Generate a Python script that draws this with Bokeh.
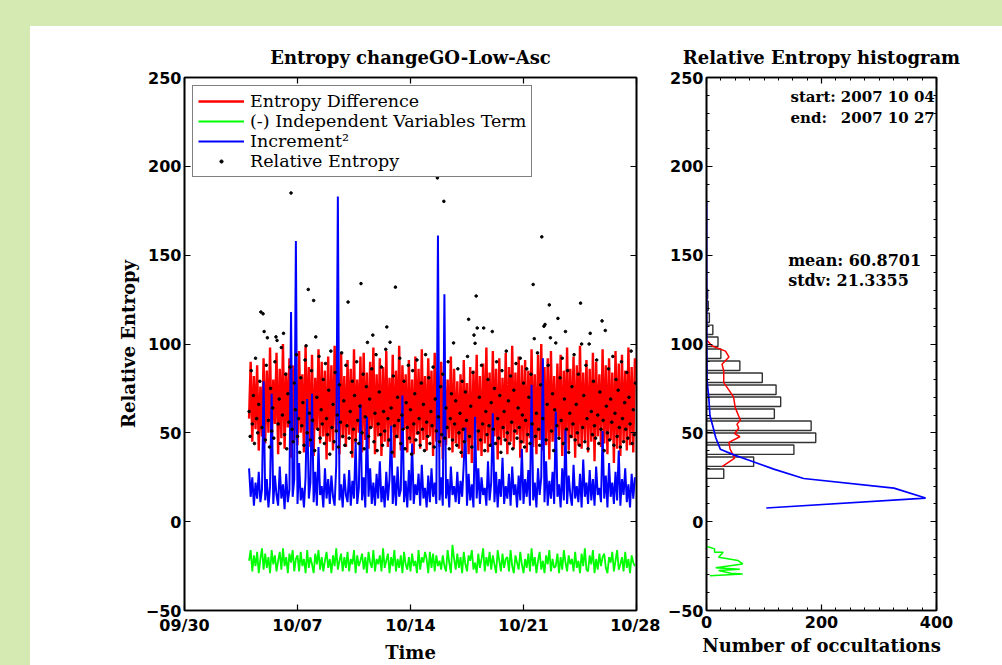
import numpy as np
from datetime import datetime
from bokeh.plotting import figure
from bokeh.layouts import row
from bokeh.models import (LinearAxis, FixedTicker, DatetimeTickFormatter, Range1d, Label,
                          CustomJSTickFormatter)
from bokeh.embed import file_html
from bokeh.resources import INLINE

# ---------------- data ----------------
t_start = np.datetime64('2007-10-04T00:00')
times = t_start + np.arange(240) * np.timedelta64(144, 'm')      # line series
times_dots = t_start + np.arange(360) * np.timedelta64(96, 'm')  # relative entropy dots

entropy_diff = [
    58, 90, 45, 82, 52, 88, 40, 76, 48, 92,
    44, 85, 50, 98, 42, 80, 55, 95, 38, 86,
    47, 100, 41, 84, 53, 92, 36, 88, 46, 79,
    43, 96, 50, 83, 39, 99, 46, 87, 42, 94,
    37, 81, 52, 97, 44, 90, 48, 85, 35, 93,
    45, 88, 40, 99, 51, 84, 38, 95, 47, 82,
    42, 91, 49, 86, 36, 97, 44, 80, 50, 93,
    39, 95, 46, 84, 41, 90, 53, 98, 38, 83,
    48, 92, 37, 87, 45, 96, 42, 81, 50, 94,
    36, 85, 47, 99, 40, 88, 52, 83, 39, 91,
    44, 80, 38, 93, 49, 86, 41, 97, 46, 82,
    40, 92, 48, 85, 37, 95, 45, 84, 42, 90,
    35, 88, 43, 80, 47, 93, 39, 86, 44, 79,
    41, 83, 36, 91, 45, 78, 38, 87, 33, 85,
    46, 94, 40, 82, 37, 89, 44, 98, 39, 84,
    42, 96, 48, 86, 35, 92, 43, 81, 47, 95,
    38, 87, 45, 99, 41, 84, 49, 93, 36, 88,
    44, 91, 39, 85, 47, 97, 42, 83, 38, 94,
    46, 100, 40, 87, 43, 92, 35, 96, 45, 82,
    41, 89, 48, 94, 37, 85, 44, 98, 40, 86,
    47, 93, 36, 88, 43, 99, 41, 84, 46, 91,
    39, 86, 45, 95, 34, 90, 48, 83, 42, 97,
    44, 88, 38, 92, 46, 84, 33, 96, 41, 89,
    37, 94, 45, 85, 40, 98, 43, 87, 39, 92,
]

indep_term = [
    -22, -16, -28, -19, -25, -17, -29, -21, -15, -27,
    -18, -26, -20, -29, -16, -24, -19, -28, -22, -17,
    -27, -15, -25, -20, -29, -18, -23, -16, -28, -21,
    -19, -28, -17, -25, -21, -29, -16, -26, -20, -24,
    -29, -18, -24, -16, -27, -20, -28, -22, -17, -26,
    -21, -29, -19, -25, -15, -27, -22, -18, -28, -20,
    -26, -17, -28, -21, -24, -16, -29, -19, -25, -22,
    -18, -27, -20, -29, -17, -23, -26, -16, -28, -21,
    -24, -19, -28, -15, -26, -22, -18, -29, -20, -25,
    -16, -28, -21, -26, -19, -29, -17, -24, -27, -20,
    -28, -18, -25, -22, -29, -16, -27, -20, -23, -17,
    -21, -29, -17, -26, -18, -28, -19, -25, -22, -27,
    -19, -25, -28, -16, -23, -29, -13, -21, -27, -18,
    -26, -20, -29, -17, -24, -28, -19, -22, -16, -27,
    -23, -29, -18, -26, -21, -15, -28, -20, -25, -17,
    -27, -19, -24, -29, -16, -22, -28, -18, -26, -21,
    -20, -28, -16, -25, -29, -19, -23, -27, -17, -24,
    -29, -21, -26, -18, -28, -15, -25, -20, -29, -22,
    -17, -27, -22, -29, -19, -24, -16, -28, -21, -26,
    -25, -18, -29, -20, -27, -16, -23, -28, -19, -24,
    -21, -28, -17, -26, -22, -29, -18, -25, -15, -27,
    -28, -19, -24, -16, -29, -21, -27, -18, -25, -20,
    -18, -26, -29, -20, -23, -17, -28, -22, -16, -27,
    -24, -20, -28, -17, -26, -21, -29, -19, -23, -25,
]

increment_sq = [
    30, 14, 25, 9, 22, 13, 28, 11, 18, 79,
    12, 24, 8, 20, 72, 10, 26, 15, 9, 31,
    13, 21, 7, 27, 11, 18, 118, 14, 24, 158,
    10, 33, 12, 19, 8, 25, 69, 13, 22, 72,
    11, 28, 9, 42, 15, 20, 8, 30, 13, 24,
    10, 26, 14, 9, 32, 183, 12, 21, 8, 27,
    15, 11, 29, 9, 23, 13, 45, 10, 19, 66,
    12, 25, 8, 59, 14, 30, 10, 22, 9, 27,
    13, 34, 11, 20, 8, 28, 12, 24, 54, 10,
    26, 9, 31, 14, 18, 71, 11, 23, 8, 29,
    12, 44, 10, 21, 15, 27, 9, 32, 13, 19,
    8, 26, 11, 30, 14, 22, 10, 161, 12, 25,
    9, 128, 13, 24, 8, 31, 15, 20, 11, 28,
    10, 23, 14, 33, 53, 9, 27, 12, 21, 8,
    59, 13, 30, 10, 25, 15, 19, 9, 34, 12,
    22, 61, 11, 28, 8, 24, 14, 36, 10, 20,
    13, 27, 9, 31, 15, 21, 8, 26, 12, 41,
    10, 24, 14, 29, 9, 77, 12, 22, 8, 30,
    15, 25, 92, 11, 34, 9, 23, 13, 28, 10,
    62, 14, 21, 8, 30, 12, 52, 10, 26, 15,
    9, 32, 13, 20, 11, 27, 8, 35, 14, 22,
    10, 29, 12, 24, 9, 31, 15, 19, 11, 51,
    13, 26, 8, 33, 14, 22, 10, 28, 12, 40,
    9, 24, 15, 30, 11, 21, 8, 27, 13, 25,
]

relative_entropy = [
    62, 48, 85, 55, 71, 44, 92, 58, 50, 66,
    79, 118, 53, 117, 107, 46, 88, 103.5, 57, 42,
    75, 51, 64, 47, 90, 104, 102, 55, 69, 44,
    98, 60, 106, 49, 83, 41, 72, 56, 87, 185,
    52, 45, 78, 63, 94, 48, 58, 39, 81, 54,
    67, 43, 91, 99, 50, 130.7, 61, 46, 85, 57,
    124.5, 40, 104, 70, 52, 93, 47, 63, 55, 80,
    44, 89, 58, 49, 74, 38, 96, 53, 66, 45,
    84, 51, 60, 42, 77, 56, 95, 48, 68, 43,
    88, 54, 123.6, 47, 62, 39, 79, 52, 71, 46,
    90, 57, 44, 65, 134, 50, 83, 41, 59, 76,
    100.9, 48, 69, 53, 86, 105, 45, 61, 94, 40,
    55, 73, 49, 87, 43, 62, 51, 97, 109.6, 58,
    46, 101, 64, 39, 82, 54, 132, 48, 70, 57,
    92, 44, 60, 52, 79, 41, 67, 53, 88, 47,
    63, 38, 85, 55, 72, 46, 91, 50, 58, 43,
    78, 52, 66, 40, 94, 56, 48, 81, 44, 62,
    54, 87, 42, 69, 51, 193.5, 59, 45, 76, 49,
    83, 180.3, 47, 64, 53, 90, 41, 58, 72, 46,
    100.6, 55, 68, 43, 86, 50, 61, 39, 79, 52,
    45, 73, 57, 93, 113.9, 48, 65, 42, 84, 105,
    100.4, 127, 109, 51, 70, 46, 88, 55, 109, 40,
    62, 49, 80, 54, 43, 67, 107, 52, 75, 44,
    90, 58, 47, 71, 39, 85, 53, 62, 46, 96,
    50, 68, 44, 82, 56, 41, 74, 51, 89, 47,
    64, 53, 92, 45, 60, 78, 42, 57, 86, 49,
    70, 44, 83, 55, 133.5, 103, 48, 61, 95, 52,
    43, 77, 160.3, 58, 110, 111, 46, 66, 88, 122,
    103.5, 51, 72, 40, 63, 100.6, 54, 114.4, 47, 81,
    57, 92, 44, 69, 107, 52, 85, 39, 61, 48,
    76, 55, 94, 46, 66, 50, 83, 43, 123, 100,
    53, 71, 45, 88, 58, 41, 100, 106, 62, 49,
    79, 54, 47, 91, 60, 44, 73, 52, 113, 57,
    40, 107.6, 65, 50, 86, 46, 69, 56, 93, 43,
    61, 80, 48, 74, 53, 42, 90, 58, 45, 67,
    52, 84, 47, 70, 55, 96, 44, 63, 49, 78,
]

# histogram of relative entropy (bin centres, counts)
hist_bins = [27, 33.75, 40.5, 47.25, 54, 60.75, 67.5, 74.25, 81, 87.75,
             94.5, 101.25, 108, 114.75, 121.5, 128.25]
hist_counts = [30, 82, 152, 190, 182, 118, 129, 121, 97, 58,
               25, 20, 11, 5, 3, 2]

# distribution curves of the three terms (value, count)
red_hist_v = [31, 35.8, 40.8, 44.6, 47.8, 49.6, 52.6, 54.9, 57.1, 64.2,
              70.2, 74, 78.3, 84.8, 88.6, 92.7, 96, 98.9, 102]
red_hist_c = [27, 49, 41, 39, 58, 49, 56, 53, 59, 50,
              47, 39, 30, 30, 27, 39, 33, 10, 1]
blue_hist_v = [7.7, 13.3, 18.9, 24.3, 29.6, 34.3, 37.6, 40.8, 47.4, 53,
               59.6, 69.8, 79, 100, 130, 180]
blue_hist_c = [104, 381, 326, 169, 117, 76.5, 47.5, 24, 16, 11.6,
               6, 4, 1, 0.5, 0.3, 0.2]
green_hist_v = [-14, -15.3, -17.2, -17.2, -20, -21.9, -23.8, -26, -26.8,
                -27.5, -29, -29.4, -30.5]
green_hist_c = [1, 14, 14, 29, 21, 55, 63, 16, 58, 21, 42, 63, 6]

y_ticks = [-50, 0, 50, 100, 150, 200, 250]
date_ticks = [datetime(2007, 9, 30), datetime(2007, 10, 7), datetime(2007, 10, 14),
              datetime(2007, 10, 21), datetime(2007, 10, 28)]
count_ticks = [0, 200, 400]

stats_start = "2007 10 04"
stats_end = "2007 10 27"
stats_mean = "60.8701"
stats_stdv = "21.3355"

# ---------------- styling helpers ----------------
SERIF = "DejaVu Serif"
SANS = "DejaVu Sans"
epoch = datetime(1970, 1, 1)
def ms(d):
    return (d - epoch).total_seconds() * 1000.0

minus_fmt = "return tick < 0 ? '\u2212' + Math.abs(tick) : '' + tick;"
blank_fmt = "return '';"

def style_axis(ax, labels=True, size="16px"):
    ax.axis_line_width = 1.6
    ax.axis_line_color = "black"
    ax.major_tick_in = 6
    ax.major_tick_out = 0
    ax.minor_tick_in = 3
    ax.minor_tick_out = 0
    ax.major_tick_line_width = 1.2
    ax.minor_tick_line_width = 1.0
    ax.major_tick_line_color = "black"
    ax.minor_tick_line_color = "black"
    if labels:
        ax.major_label_text_font = SANS
        ax.major_label_text_font_style = "bold"
        ax.major_label_text_font_size = size
        ax.major_label_text_color = "black"
    else:
        ax.formatter = CustomJSTickFormatter(code=blank_fmt)
        ax.major_label_standoff = 0

def style_fig(p):
    p.grid.visible = False
    p.outline_line_color = "black"
    p.outline_line_width = 1.6
    p.background_fill_color = "white"
    p.border_fill_color = "white"
    p.title.text_font = SERIF
    p.title.text_font_style = "bold"
    p.title.text_font_size = "18px"
    p.title.text_color = "black"
    p.title.align = "center"
    p.title.standoff = 19

# ---------------- left: time series ----------------
p1 = figure(width=630, height=639, output_backend="svg", toolbar_location=None,
            x_axis_type="datetime",
            x_range=Range1d(date_ticks[0], date_ticks[-1]),
            y_range=Range1d(-50, 250),
            min_border_left=154, min_border_right=24, min_border_top=51, min_border_bottom=55,
            title="Entropy changeGO-Low-Asc")
style_fig(p1)

p1.line(times, entropy_diff, color="red", line_width=2.4, legend_label="Entropy Difference")
p1.line(times, indep_term, color="#00ff00", line_width=1.8, legend_label="(-) Independent Variables Term")
p1.line(times, increment_sq, color="blue", line_width=2.0, legend_label="Increment\u00b2")
p1.scatter(times_dots, relative_entropy, size=2.6, color="black", legend_label="Relative Entropy")

date_ms = [ms(d) for d in date_ticks]
p1.xaxis.ticker = FixedTicker(ticks=date_ms, minor_ticks=[])
p1.xaxis.formatter = DatetimeTickFormatter(days="%m/%d", months="%m/%d", hours="%m/%d",
                                           years="%m/%d")
p1.xaxis.axis_label = "Time"
p1.xaxis.major_label_standoff = 5
p1.yaxis.ticker = FixedTicker(ticks=y_ticks, minor_ticks=[])
p1.yaxis.formatter = CustomJSTickFormatter(code=minus_fmt)
p1.yaxis.axis_label = "Relative Entropy"
p1.yaxis.major_label_standoff = 3
for ax in (p1.xaxis[0], p1.yaxis[0]):
    style_axis(ax)
    ax.axis_label_text_font = SERIF
    ax.axis_label_text_font_style = "bold"
    ax.axis_label_text_font_size = "18px"
    ax.axis_label_text_color = "black"
    ax.axis_label_standoff = 4

top1 = LinearAxis(ticker=FixedTicker(ticks=date_ms, minor_ticks=[]))
style_axis(top1, labels=False)
p1.add_layout(top1, "above")
right1 = LinearAxis(ticker=FixedTicker(ticks=y_ticks, minor_ticks=[]))
style_axis(right1, labels=False)
p1.add_layout(right1, "right")

lg = p1.legend[0]
lg.location = "top_left"
lg.margin = 8
lg.padding = 5
lg.spacing = 0
lg.border_line_color = "black"
lg.border_line_width = 1.5
lg.label_text_font = SERIF
lg.label_text_font_size = "17.5px"
lg.label_text_color = "black"
lg.label_height = 18
lg.glyph_height = 8
lg.glyph_width = 46
lg.label_standoff = 6
lg.background_fill_alpha = 1.0

# ---------------- right: histogram ----------------
p2 = figure(width=342, height=639, output_backend="svg", toolbar_location=None,
            x_range=Range1d(0, 400), y_range=Range1d(-50, 250),
            min_border_left=46, min_border_right=66, min_border_top=51, min_border_bottom=55,
            title="Relative Entropy histogram")
style_fig(p2)

p2.hbar(y=hist_bins, left=0, right=hist_counts, height=5.3,
        fill_color="white", line_color="#333333", line_width=1.4)
p2.line(red_hist_c, red_hist_v, color="red", line_width=1.5)
p2.line(blue_hist_c, blue_hist_v, color="blue", line_width=1.7)
p2.line(green_hist_c, green_hist_v, color="#00ff00", line_width=1.5)

p2.xaxis.ticker = FixedTicker(ticks=count_ticks, minor_ticks=list(range(0, 401, 25)))
p2.xaxis.axis_label = "Number of occultations"
p2.xaxis.major_label_standoff = 5
p2.yaxis.ticker = FixedTicker(ticks=y_ticks, minor_ticks=list(range(-50, 251, 10)))
p2.yaxis.formatter = CustomJSTickFormatter(code=minus_fmt)
p2.yaxis.major_label_standoff = 3
for ax in (p2.xaxis[0], p2.yaxis[0]):
    style_axis(ax)
    ax.axis_label_text_font = SERIF
    ax.axis_label_text_font_style = "bold"
    ax.axis_label_text_font_size = "18px"
    ax.axis_label_text_color = "black"
    ax.axis_label_standoff = 4

top2 = LinearAxis(ticker=FixedTicker(ticks=count_ticks, minor_ticks=list(range(0, 401, 25))))
style_axis(top2, labels=False)
p2.add_layout(top2, "above")
right2 = LinearAxis(ticker=FixedTicker(ticks=y_ticks, minor_ticks=list(range(-50, 251, 10))))
style_axis(right2, labels=False)
p2.add_layout(right2, "right")

def stat_label(x, y, text, align="left", size="15px"):
    p2.add_layout(Label(x=x, y=y, text=text, text_font=SERIF, text_font_style="bold",
                        text_font_size=size, text_baseline="middle", text_align=align,
                        text_color="black"))

stat_label(146, 239, "start:")
stat_label(397, 239, stats_start, "right")
stat_label(146, 227, "end:")
stat_label(397, 227, stats_end, "right")
stat_label(142, 147, "mean: " + stats_mean, size="16px")
stat_label(142, 135.5, "stdv: " + stats_stdv, size="16px")

layout = row(p1, p2, spacing=0, styles={"background-color": "white"})
html = file_html(layout, INLINE, title="Entropy change")
head_end = html.find("</head>")
b0 = html.find("<body", head_end)
b1 = html.find(">", b0)
html = (html[:b0]
        + '<body style="margin:0;padding:26px 0 0 30px;background-color:#d4eab2;overflow:hidden;">'
        + html[b1 + 1:])
open("out.html", "w").write(html)
